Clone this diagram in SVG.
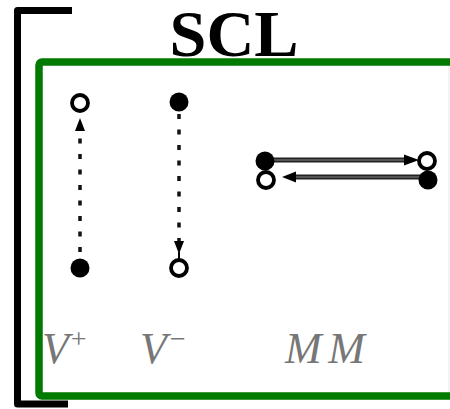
<svg xmlns="http://www.w3.org/2000/svg" width="450" height="409" viewBox="0 0 450 409">
<style>
.dash{stroke:#111;stroke-width:3.5;stroke-dasharray:5 10.5;fill:none}
.filled{fill:#000}
.open{fill:#fff;stroke:#000;stroke-width:3.8}
.lbl{font-family:"Liberation Serif","Times New Roman",serif;font-style:italic;fill:#777}
.mmo{stroke:#222;stroke-width:5;fill:none}
.mmi{stroke:#888;stroke-width:1.2;fill:none}
.head{fill:#000}
</style>
<rect width="450" height="409" fill="#fff"/>
<g id="frame">
<path d="M72,10.5 H17.5 V404 H68" fill="none" stroke="#000" stroke-width="7" stroke-linejoin="round"/>
<rect x="39" y="62" width="430" height="334" rx="3" fill="none" stroke="#007a00" stroke-width="7.5"/>
<line x1="449" y1="66" x2="449" y2="392" stroke="#e6e6e6" stroke-width="1"/>
</g>
<g id="title"><text x="234" y="56" text-anchor="middle" font-family="Liberation Serif,'Times New Roman',serif" font-weight="bold" font-size="66" textLength="129" lengthAdjust="spacingAndGlyphs" fill="#000">SCL</text></g>
<g id="connectors">
<line class="dash" x1="80" y1="252" x2="80" y2="132"/>
<polygon class="head" points="80,118 75,131 85,131"/>
<line class="dash" x1="179" y1="114" x2="179" y2="242"/>
<polygon class="head" points="179,254 174,241 184,241"/>
<line x1="179" y1="252" x2="179" y2="260" stroke="#000" stroke-width="2"/>
<line class="mmo" x1="266" y1="160" x2="405" y2="160"/>
<line class="mmi" x1="266" y1="160" x2="405" y2="160"/>
<polygon class="head" points="419,160 404,154.5 404,165.5"/>
<line class="mmo" x1="294" y1="177" x2="428" y2="177"/>
<line class="mmi" x1="294" y1="177" x2="428" y2="177"/>
<polygon class="head" points="282,177 296,171.5 296,182.5"/>
</g>
<g id="vplus">
<circle class="open" cx="80" cy="103" r="8"/>
<circle class="filled" cx="80" cy="268" r="9.5"/>
<text class="lbl" x="42" y="363" font-size="44">V</text>
<text class="lbl" x="69" y="348" font-size="28" font-style="normal">+</text>
</g>
<g id="vminus">
<circle class="filled" cx="179" cy="102" r="9.5"/>
<circle class="open" cx="179" cy="268" r="8"/>
<text class="lbl" x="140" y="363" font-size="44">V</text>
<text class="lbl" x="168" y="348" font-size="28" font-style="normal">−</text>
</g>
<g id="mm">
<circle class="filled" cx="265" cy="161" r="9.5"/>
<circle class="open" cx="266" cy="180" r="8"/>
<circle class="open" cx="427" cy="161" r="8"/>
<circle class="filled" cx="428" cy="180" r="9.5"/>
<text class="lbl" x="285" y="363" font-size="44" textLength="80">MM</text>
</g>
</svg>
